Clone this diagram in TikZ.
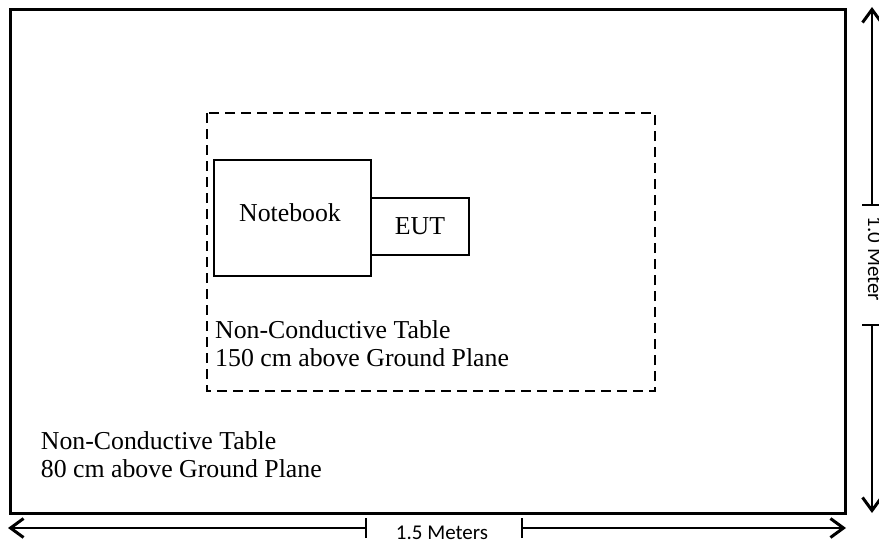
\documentclass[tikz,border=0pt]{standalone}
\usepackage{fontspec}
\setmainfont{Liberation Serif}
\newfontfamily\dimfont{Carlito}
\usetikzlibrary{arrows.meta}
\newcommand{\labfont}{\fontsize{25.8}{28}\selectfont}
\newcommand{\meterfont}{\dimfont\fontsize{21}{24}\selectfont}

\begin{document}
\begin{tikzpicture}[x = 1pt, y = -1pt,
  box/.style = {draw, line width = 2pt, inner sep = 0pt, font = \labfont},
  lab/.style = {inner sep = 0pt, font = \labfont, align = left},
  dim/.style = {line width = 1.5pt, -{Straight Barb[length = 13pt, width = 19pt, line width = 3pt]}},
  dimtext/.style = {inner sep = 0pt, font = \meterfont}]
\useasboundingbox (0,0) rectangle (879,543);
% outer table
\draw[line width = 3pt] (10,10) rectangle (845,513);
\node[lab, anchor = north west] (outertext) at (40.7,431.4) {Non-Conductive Table\\80 cm above Ground Plane};
% inner table
\draw[line width = 2.5pt, dash pattern = on 10pt off 6pt] (207,113) rectangle (655,391);
\node[lab, anchor = north west] (innertext) at (215,320.4) {Non-Conductive Table\\150 cm above Ground Plane};
% notebook and EUT
\node[box, minimum width = 157pt, minimum height = 116pt] (nb) at (292.5,218) {};
\node[lab] (nblab) at (290,213) {Notebook};
\node[box, minimum width = 98pt, minimum height = 57pt] (eut) at (420,226.5) {EUT};

% 1.5 Meters
\coordinate (wl) at (366,528);
\coordinate (wr) at (522,528);
\coordinate (wlend) at (8,528);
\coordinate (wrend) at (846,528);
\draw[dim] (wl) -- (wlend);
\draw[dim] (wr) -- (wrend);
\foreach \c in {wl,wr} {
  \draw[line width = 1.5pt] ([yshift = -10pt]\c) -- ([yshift = 10pt]\c);
  }
\node[dimtext, anchor = base] (wtext) at (442,539) {1.5 Meters};

% 1.0 Meter
\coordinate (ht) at (872,205);
\coordinate (hb) at (872,325);
\coordinate (htend) at (872,7);
\coordinate (hbend) at (872,513);
\draw[dim] (ht) -- (htend);
\draw[dim] (hb) -- (hbend);
\foreach \c in {ht,hb} {
  \draw[line width = 1.5pt] ([xshift = -10pt]\c) -- ([xshift = 10pt]\c);
  }
\node[dimtext, anchor = base, rotate = -90] (htext) at (868,259) {1.0 Meter};
\end{tikzpicture}
\end{document}
